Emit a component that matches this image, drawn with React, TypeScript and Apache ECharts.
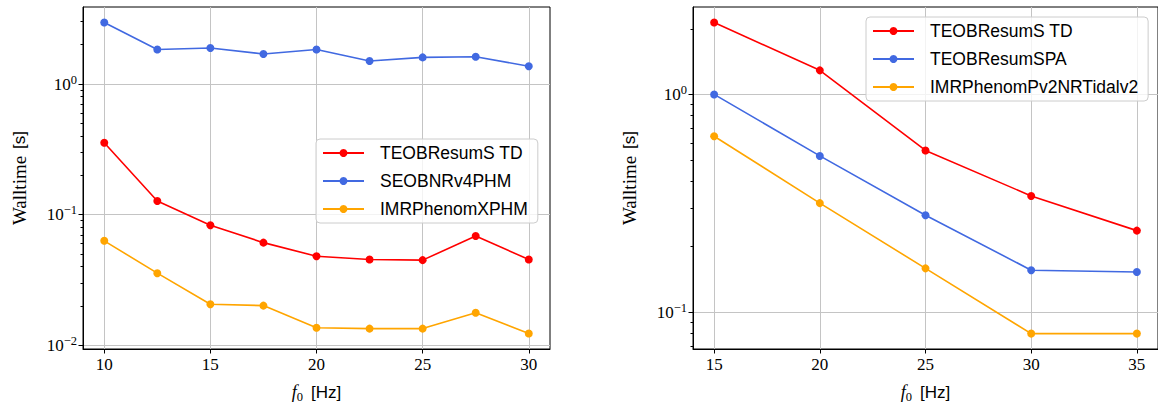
import React, { useEffect, useRef } from 'react';
import * as echarts from 'echarts';

// ---------- data ----------
const leftX = [10, 12.5, 15, 17.5, 20, 22.5, 25, 27.5, 30];
const leftTeobTD = [0.355, 0.127, 0.083, 0.061, 0.048, 0.0453, 0.0448, 0.0686, 0.0453];
const leftSeob = [2.96, 1.84, 1.89, 1.7, 1.84, 1.5, 1.6, 1.62, 1.37];
const leftImrX = [0.063, 0.0356, 0.0206, 0.0201, 0.0136, 0.0134, 0.0134, 0.0177, 0.0123];

const rightX = [15, 20, 25, 30, 35];
const rightTeobTD = [2.14, 1.29, 0.553, 0.342, 0.237];
const rightTeobSPA = [1.0, 0.522, 0.279, 0.156, 0.153];
const rightImrNRT = [0.643, 0.317, 0.159, 0.0798, 0.0798];

const leftNames = ['TEOBResumS TD', 'SEOBNRv4PHM', 'IMRPhenomXPHM'];
const rightNames = ['TEOBResumS TD', 'TEOBResumSPA', 'IMRPhenomPv2NRTidalv2'];

const leftXTicks = [10, 15, 20, 25, 30];
const rightXTicks = [15, 20, 25, 30, 35];
const leftXRange = [9, 31];
const rightXRange = [14, 36];

const leftYMajor = [0.01, 0.1, 1];
const leftYMinor = [0.02, 0.03, 0.04, 0.05, 0.06, 0.07, 0.08, 0.09, 0.2, 0.3, 0.4, 0.5, 0.6, 0.7, 0.8, 0.9, 2, 3];
const rightYMajor = [0.1, 1];
const rightYMinor = [0.07, 0.08, 0.09, 0.2, 0.3, 0.4, 0.5, 0.6, 0.7, 0.8, 0.9, 2];
const leftYRange = [0.00935, 3.89];
const rightYRange = [0.0678, 2.52];

const RED = '#ff0000';
const BLUE = '#4169e1';
const ORANGE = '#ffa500';

const SERIF = 'Liberation Serif';
const SANS = 'Liberation Sans';

function pairs(xs: number[], ys: number[]) {
  return xs.map((x, i) => [x, ys[i]]);
}

function logLabel(v: number) {
  const e = Math.round(Math.log10(v));
  const s = e < 0 ? '\u2212' + -e : String(e);
  return `{b|10}{s|${s}}`;
}

const supRich = {
  b: { fontFamily: SERIF, fontSize: 17, color: '#000', lineHeight: 22, verticalAlign: 'middle' },
  s: { fontFamily: SERIF, fontSize: 12.5, color: '#000', lineHeight: 12, verticalAlign: 'top' },
};

function xAxisDef(grid: number, range: number[], ticks: number[]) {
  return {
    type: 'value',
    gridIndex: grid,
    min: range[0],
    max: range[1],
    name: '{i|f}{sub|0}{sp| }{s|[Hz]}',
    nameLocation: 'middle',
    nameGap: 32,
    nameTextStyle: {
      fontFamily: SERIF,
      rich: {
        i: { fontFamily: SERIF, fontStyle: 'italic', fontSize: 18, color: '#000', lineHeight: 22, verticalAlign: 'middle' },
        sub: { fontFamily: SERIF, fontSize: 12.5, color: '#000', lineHeight: 12, verticalAlign: 'bottom' },
        sp: { fontFamily: SANS, fontSize: 17, lineHeight: 22, width: 8 },
        s: { fontFamily: SANS, fontSize: 17, color: '#000', lineHeight: 22, verticalAlign: 'middle' },
      },
    },
    axisLine: { show: true, lineStyle: { color: '#000', width: 1 } },
    axisTick: { show: true, customValues: ticks, length: 4.5, lineStyle: { color: '#000', width: 1 } },
    axisLabel: {
      customValues: ticks,
      margin: 7,
      fontFamily: SERIF,
      fontSize: 17,
      color: '#000',
      formatter: (v: number) => String(v),
    },
    splitLine: { show: true, lineStyle: { color: '#c4c4c4', width: 1 } },
  };
}

function yAxisMajor(grid: number, range: number[], ticks: number[]) {
  return {
    type: 'log',
    logBase: 10,
    gridIndex: grid,
    position: 'left',
    min: range[0],
    max: range[1],
    name: '{r|Walltime}{sp| }{s|[s]}',
    nameLocation: 'middle',
    nameGap: 54,
    nameRotate: 90,
    nameTextStyle: {
      fontFamily: SERIF,
      rich: {
        r: { fontFamily: SERIF, fontSize: 19, color: '#000' },
        sp: { fontFamily: SERIF, fontSize: 19, width: 7 },
        s: { fontFamily: SANS, fontSize: 17, color: '#000' },
      },
    },
    axisLine: { show: true, lineStyle: { color: '#000', width: 1 } },
    axisTick: { show: true, customValues: ticks, length: 4.5, lineStyle: { color: '#000', width: 1 } },
    axisLabel: {
      customValues: ticks,
      margin: 6,
      fontFamily: SERIF,
      formatter: logLabel,
      rich: supRich,
    },
    splitLine: { show: true, lineStyle: { color: '#c4c4c4', width: 1 } },
  };
}

function yAxisMinor(grid: number, range: number[], ticks: number[]) {
  return {
    type: 'log',
    logBase: 10,
    gridIndex: grid,
    position: 'left',
    min: range[0],
    max: range[1],
    axisLine: { show: false },
    axisTick: { show: true, customValues: ticks, length: 2.5, lineStyle: { color: '#000', width: 1 } },
    axisLabel: { show: false },
    splitLine: { show: false },
  };
}

function lineSeries(name: string, color: string, xi: number, yi: number, xs: number[], ys: number[]) {
  return {
    type: 'line',
    name,
    xAxisIndex: xi,
    yAxisIndex: yi,
    data: pairs(xs, ys),
    symbol: 'circle',
    symbolSize: 8,
    showSymbol: true,
    lineStyle: { color, width: 1.6 },
    itemStyle: { color },
    emphasis: { disabled: true },
  };
}

function legendDef(names: string[], left: number, top: number) {
  return {
    data: names,
    orient: 'vertical',
    left,
    top,
    itemWidth: 41,
    itemHeight: 10,
    itemGap: 10,
    padding: [5, 10, 5, 6],
    backgroundColor: 'rgba(255,255,255,0.8)',
    borderColor: '#cccccc',
    borderWidth: 1,
    borderRadius: 4,
    selectedMode: false,
    textStyle: { fontFamily: SANS, fontSize: 17.5, color: '#000', lineHeight: 18, padding: [0, 0, 0, 11] },
  };
}

export default function App() {
  const ref = useRef<HTMLDivElement>(null);
  useEffect(() => {
    if (!ref.current) return;
    const chart = echarts.init(ref.current, undefined, { renderer: 'svg' });
    const option: any = {
      animation: false,
      backgroundColor: '#ffffff',
      textStyle: { fontFamily: SERIF },
      grid: [
        { left: 83, top: 7, width: 467, height: 349, show: true, borderColor: '#000', borderWidth: 1, backgroundColor: 'transparent', containLabel: false },
        { left: 693, top: 7, width: 467, height: 349, show: true, borderColor: '#000', borderWidth: 1, backgroundColor: 'transparent', containLabel: false },
      ],
      xAxis: [xAxisDef(0, leftXRange, leftXTicks), xAxisDef(1, rightXRange, rightXTicks)],
      yAxis: [
        yAxisMajor(0, leftYRange, leftYMajor),
        yAxisMinor(0, leftYRange, leftYMinor),
        yAxisMajor(1, rightYRange, rightYMajor),
        yAxisMinor(1, rightYRange, rightYMinor),
      ],
      legend: [legendDef(leftNames, 316, 139), legendDef(rightNames, 866, 17)],
      series: [
        lineSeries(leftNames[0], RED, 0, 0, leftX, leftTeobTD),
        lineSeries(leftNames[1], BLUE, 0, 0, leftX, leftSeob),
        lineSeries(leftNames[2], ORANGE, 0, 0, leftX, leftImrX),
        lineSeries(rightNames[0], RED, 1, 2, rightX, rightTeobTD),
        lineSeries(rightNames[1], BLUE, 1, 2, rightX, rightTeobSPA),
        lineSeries(rightNames[2], ORANGE, 1, 2, rightX, rightImrNRT),
      ],
    };
    chart.setOption(option);
    return () => chart.dispose();
  }, []);
  return <div ref={ref} style={{ position: 'absolute', left: 0, top: 0, width: 1158, height: 408 }} />;
}
